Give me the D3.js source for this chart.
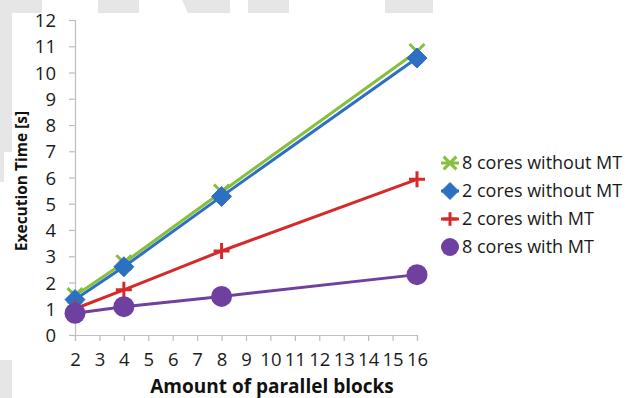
<!DOCTYPE html>
<html><head><meta charset="utf-8">
<script src="https://cdn.jsdelivr.net/npm/d3@7/dist/d3.min.js"></script>
<style>
html,body{margin:0;padding:0;background:#fff;}
svg{display:block;}
</style></head>
<body>
<svg id="chart" width="634" height="398"></svg>
<script>
// ---- data ----
const xValues = [2, 4, 8, 16];
const xTicks = [2,3,4,5,6,7,8,9,10,11,12,13,14,15,16];
const yTicks = [0,1,2,3,4,5,6,7,8,9,10,11,12];
const seriesNames = ["8 cores without MT", "2 cores without MT", "2 cores with MT", "8 cores with MT"];
const green8NoMT = [1.5, 2.75, 5.45, 10.8];
const blue2NoMT = [1.35, 2.6, 5.28, 10.55];
const red2MT = [1.0, 1.72, 3.2, 5.93];
const purple8MT = [0.83, 1.08, 1.47, 2.3];
const xTitle = "Amount of parallel blocks";
const yTitle = "Execution Time [s]";

const seriesValues = [green8NoMT, blue2NoMT, red2MT, purple8MT];
const colors = ["#86bf3c", "#2d6fc0", "#d62a2a", "#7040a0"];
const markers = ["star", "diamond", "plus", "circle"];

const svg = d3.select("#chart");
const font = "'Open Sans', sans-serif";

// watermark background shapes
const wm = svg.append("g").attr("fill", "#e6e6e6");
[[0,0,42,13],[98,0,41,13],[248,0,41,13],[385,0,48,13],[0,0,12,152],[0,152,4,30],[0,360,12,38]].forEach(r=>{
  wm.append("rect").attr("x",r[0]).attr("y",r[1]).attr("width",r[2]).attr("height",r[3]);
});
wm.append("polygon").attr("points","182,0 230,0 230,13 188,13");

const x = d3.scaleLinear().domain([2,16]).range([75,417]);
const y = d3.scaleLinear().domain([0,12]).range([335,20]);

const axisColor = "#bdbdbd";
const gx = svg.append("g").attr("transform","translate(0,335)")
  .call(d3.axisBottom(x).tickValues(xTicks).tickSize(6).tickPadding(12).tickFormat(d3.format("d")));
const gy = svg.append("g").attr("transform","translate(75,0)")
  .call(d3.axisLeft(y).tickValues(yTicks).tickSize(6).tickPadding(13).tickFormat(d3.format("d")));
[gx,gy].forEach(g=>{
  g.selectAll("path,line").attr("stroke",axisColor).attr("stroke-width",1.2);
  g.selectAll("text").attr("fill","#1a1a1a").style("font-family",font).style("font-size","18.5px");
});
gy.selectAll("text").attr("dy","0.36em");

// axis titles
svg.append("text").attr("x",272).attr("y",393).attr("text-anchor","middle")
  .style("font-family",font).style("font-weight","bold").style("font-size","19px").attr("fill","#111")
  .text(xTitle);
svg.append("text").attr("transform","translate(27,181) rotate(-90)").attr("text-anchor","middle")
  .style("font-family",font).style("font-weight","bold").style("font-size","15.5px").attr("fill","#111")
  .text(yTitle);

function drawMarker(g, type, cx, cy, color, scale) {
  const s = scale || 1;
  if (type === "diamond") {
    const r = 10*s;
    g.append("path").attr("d",`M${cx},${cy-r}L${cx+r},${cy}L${cx},${cy+r}L${cx-r},${cy}Z`)
      .attr("fill",color).attr("stroke",color).attr("stroke-width",1).attr("stroke-linejoin","round");
  } else if (type === "circle") {
    g.append("circle").attr("cx",cx).attr("cy",cy).attr("r",10.5*s).attr("fill",color);
  } else if (type === "plus") {
    const r = 8*s;
    g.append("path").attr("d",`M${cx-r},${cy}L${cx+r},${cy}M${cx},${cy-r}L${cx},${cy+r}`)
      .attr("stroke",color).attr("stroke-width",3).attr("fill","none");
  } else if (type === "star") {
    const r = 7.5*s;
    g.append("path").attr("d",`M${cx-r},${cy-r}L${cx+r},${cy+r}M${cx-r},${cy+r}L${cx+r},${cy-r}`)
      .attr("stroke",color).attr("stroke-width",3).attr("fill","none");
  }
}

const line = d3.line().x(d=>x(d[0])).y(d=>y(d[1]));
seriesValues.forEach((vals,i)=>{
  const g = svg.append("g");
  const pts = xValues.map((xv,j)=>[xv, vals[j]]);
  g.append("path").attr("d",line(pts)).attr("fill","none").attr("stroke",colors[i]).attr("stroke-width",3);
  pts.forEach(p=>drawMarker(g, markers[i], x(p[0]), y(p[1]), colors[i]));
});

// legend
const lg = svg.append("g");
seriesNames.forEach((name,i)=>{
  const cy = 163 + i*28;
  const cx = 450;
  lg.append("line").attr("x1",cx-9).attr("x2",cx+9).attr("y1",cy).attr("y2",cy)
    .attr("stroke",colors[i]).attr("stroke-width",3);
  drawMarker(lg, markers[i], cx, cy, colors[i], 0.85);
  lg.append("text").attr("x",462).attr("y",cy).attr("dy","0.36em")
    .style("font-family",font).style("font-size","18px").attr("fill","#1a1a1a").text(name);
});
</script>
</body></html>
